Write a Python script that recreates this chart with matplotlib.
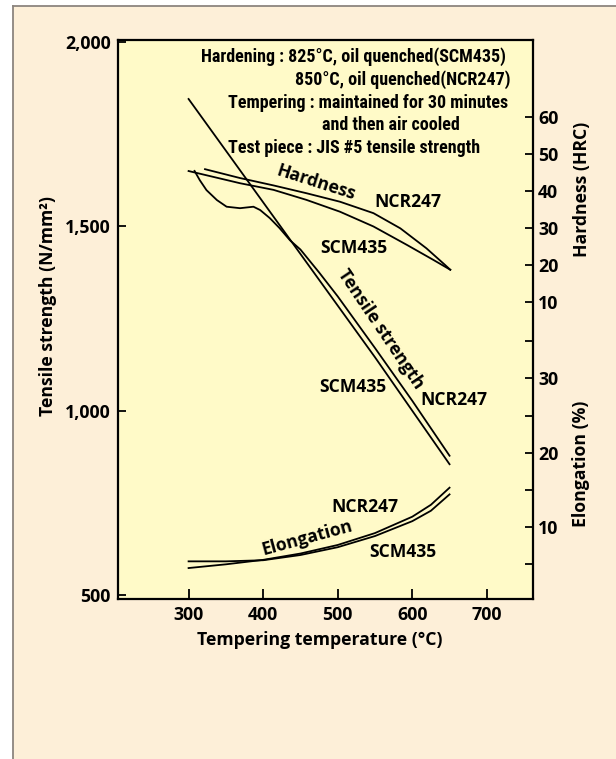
import matplotlib
matplotlib.use("Agg")
import matplotlib.pyplot as plt
from matplotlib import font_manager as fm
from matplotlib.patches import Rectangle
from matplotlib.lines import Line2D

# ---------------- data ----------------
temp_ts_scm = [300, 350, 400, 450, 500, 550, 600, 650]
ts_scm = [1845, 1705, 1565, 1425, 1285, 1145, 1000, 855]

temp_ts_ncr = [308, 315, 324, 338, 351, 369, 387, 396, 409, 422, 436, 450,
               475, 500, 550, 600, 650]
ts_ncr = [1650, 1625, 1598, 1571, 1553, 1549, 1553, 1544, 1522, 1495, 1462,
          1437, 1375, 1310, 1170, 1027, 878]

temp_h_ncr = [322, 369, 414, 458, 503, 548, 584, 619, 644, 651]
h_ncr = [45.8, 43.4, 41.4, 39.3, 37.0, 33.9, 29.8, 24.4, 19.9, 18.6]
temp_h_scm = [300, 369, 414, 458, 503, 548, 593, 628, 651]
h_scm = [45.3, 42.0, 40.2, 37.5, 34.3, 30.3, 25.3, 21.3, 18.6]

temp_el = [300, 350, 400, 450, 500, 550, 600, 625, 650]
el_ncr = [4.5, 5.0, 5.6, 6.45, 7.6, 9.2, 11.4, 13.0, 15.3]
el_scm = [5.4, 5.4, 5.55, 6.25, 7.3, 8.8, 10.8, 12.2, 14.4]

x_ticks = [300, 400, 500, 600, 700]
ts_ticks = [500, 1000, 1500, 2000]
ts_ticklabels = ["500", "1,000", "1,500", "2,000"]
h_ticks = [10, 20, 30, 40, 50, 60]
el_ticks = [5, 10, 15, 20, 25, 30, 35]
el_ticklabels = ["", "10", "", "20", "", "30", ""]

notes = [
    "Hardening : 825°C, oil quenched(SCM435)",
    "850°C, oil quenched(NCR247)",
    "Tempering : maintained for 30 minutes",
    "and then air cooled",
    "Test piece : JIS #5 tensile strength",
]

# ---------------- fonts ----------------
avail = {f.name for f in fm.fontManager.ttflist}


def pick(cands):
    for c in cands:
        if c in avail:
            return c
    return "DejaVu Sans"


COND = pick(["Liberation Sans Narrow", "Roboto Condensed", "Open Sans Condensed", "DejaVu Sans"])
BOLD = pick(["Open Sans", "Noto Sans", "Lato", "DejaVu Sans"])
COND_STRETCH = "condensed" if COND == "DejaVu Sans" else "normal"

W, H = 616, 759
fig = plt.figure(figsize=(W / 100, H / 100), dpi=100)
fig.patch.set_facecolor("white")


def P(px, py):
    return (px / W, 1 - py / H)


# cream panel with grey border (top & left)
fig.add_artist(Rectangle(P(13, H), 1, (H - 6) / H, transform=fig.transFigure,
                         facecolor="#FDEFD8", edgecolor="none", zorder=0))
fig.add_artist(Line2D([13 / W, 1], [1 - 6 / H, 1 - 6 / H], transform=fig.transFigure,
                      color="#8C857F", lw=1.3))
fig.add_artist(Line2D([13 / W, 13 / W], [0, 1 - 6 / H], transform=fig.transFigure,
                      color="#8C857F", lw=1.3))

L, R, T, B = 117.9, 533.2, 40.0, 598.7
ax = fig.add_axes([L / W, 1 - B / H, (R - L) / W, (B - T) / H])
ax.set_facecolor("#FFFAC8")
ax.set_xlim(205.2, 762.2)
ax.set_ylim(490.5, 2004.9)

ax_h = ax.twinx()
ax_h.set_ylim(-70.35, 80.73)
ax_e = ax.twinx()
ax_e.set_ylim(0.38, 75.47)

for a in (ax_h, ax_e):
    for s in a.spines.values():
        s.set_visible(False)
for s in ax.spines.values():
    s.set_linewidth(1.6)
    s.set_color("black")

lw = 1.3
ax.plot(temp_ts_scm, ts_scm, color="black", lw=lw)
ax.plot(temp_ts_ncr, ts_ncr, color="black", lw=lw)
ax_h.plot(temp_h_ncr, h_ncr, color="black", lw=lw)
ax_h.plot(temp_h_scm, h_scm, color="black", lw=lw)
ax_e.plot(temp_el, el_ncr, color="black", lw=lw)
ax_e.plot(temp_el, el_scm, color="black", lw=lw)

tick_font = dict(family=BOLD, weight="bold", size=12.8)
ax.set_xticks(x_ticks)
ax.set_xticklabels([str(v) for v in x_ticks], **tick_font)
ax.set_yticks(ts_ticks)
ax.set_yticklabels(ts_ticklabels, **tick_font)
ax.tick_params(axis="x", direction="in", length=7, width=1.3, pad=5, top=False)
ax.tick_params(axis="y", direction="in", length=6, width=1.3, pad=5, right=False)

ax_h.set_yticks(h_ticks)
ax_h.set_yticklabels([str(v) for v in h_ticks], **tick_font)
ax_h.tick_params(axis="y", direction="in", length=6, width=1.3, pad=3.5)
ax_e.set_yticks(el_ticks)
ax_e.set_yticklabels(el_ticklabels, **tick_font)
ax_e.tick_params(axis="y", direction="in", length=6, width=1.3, pad=3.5)

# axis titles
lab = dict(family=BOLD, weight="bold", size=12.7, ha="center", va="center",
           transform=fig.transFigure)
fig.text(*P(48, 306), "Tensile strength (N/mm²)", rotation=90, **lab)
fig.text(*P(320, 640), "Tempering temperature (°C)", **lab)
fig.text(*P(581.5, 189), "Hardness (HRC)", rotation=90, **lab)
fig.text(*P(581.5, 464), "Elongation (%)", rotation=90, **lab)

# notes block
note_kw = dict(family=COND, weight="bold", size=13.0, ha="left", va="center",
               stretch=COND_STRETCH, transform=fig.transFigure)
note_pos = [(201, 56.7), (294.7, 79.3), (227.9, 102.7), (322, 125), (227.9, 147.7)]
for (px, py), s in zip(note_pos, notes):
    fig.text(*P(px, py), s, **note_kw)

# curve labels
cl = dict(family=BOLD, weight="bold", size=12.6, ha="center", va="center",
          transform=fig.transFigure)
fig.text(*P(316, 183), "Hardness", rotation=-17.7, rotation_mode="anchor", **cl)
fig.text(*P(407.5, 201.7), "NCR247", **cl)
fig.text(*P(354, 248.3), "SCM435", **cl)
fig.text(*P(381, 329), "Tensile strength", rotation=-56.0, rotation_mode="anchor", **cl)
fig.text(*P(352.5, 386.7), "SCM435", **cl)
fig.text(*P(453.8, 400), "NCR247", **cl)
fig.text(*P(365, 506.7), "NCR247", **cl)
fig.text(*P(307, 538), "Elongation", rotation=15.3, rotation_mode="anchor", **cl)
fig.text(*P(402.5, 551.7), "SCM435", **cl)

fig.savefig("out.png", dpi=100, facecolor=fig.get_facecolor())
